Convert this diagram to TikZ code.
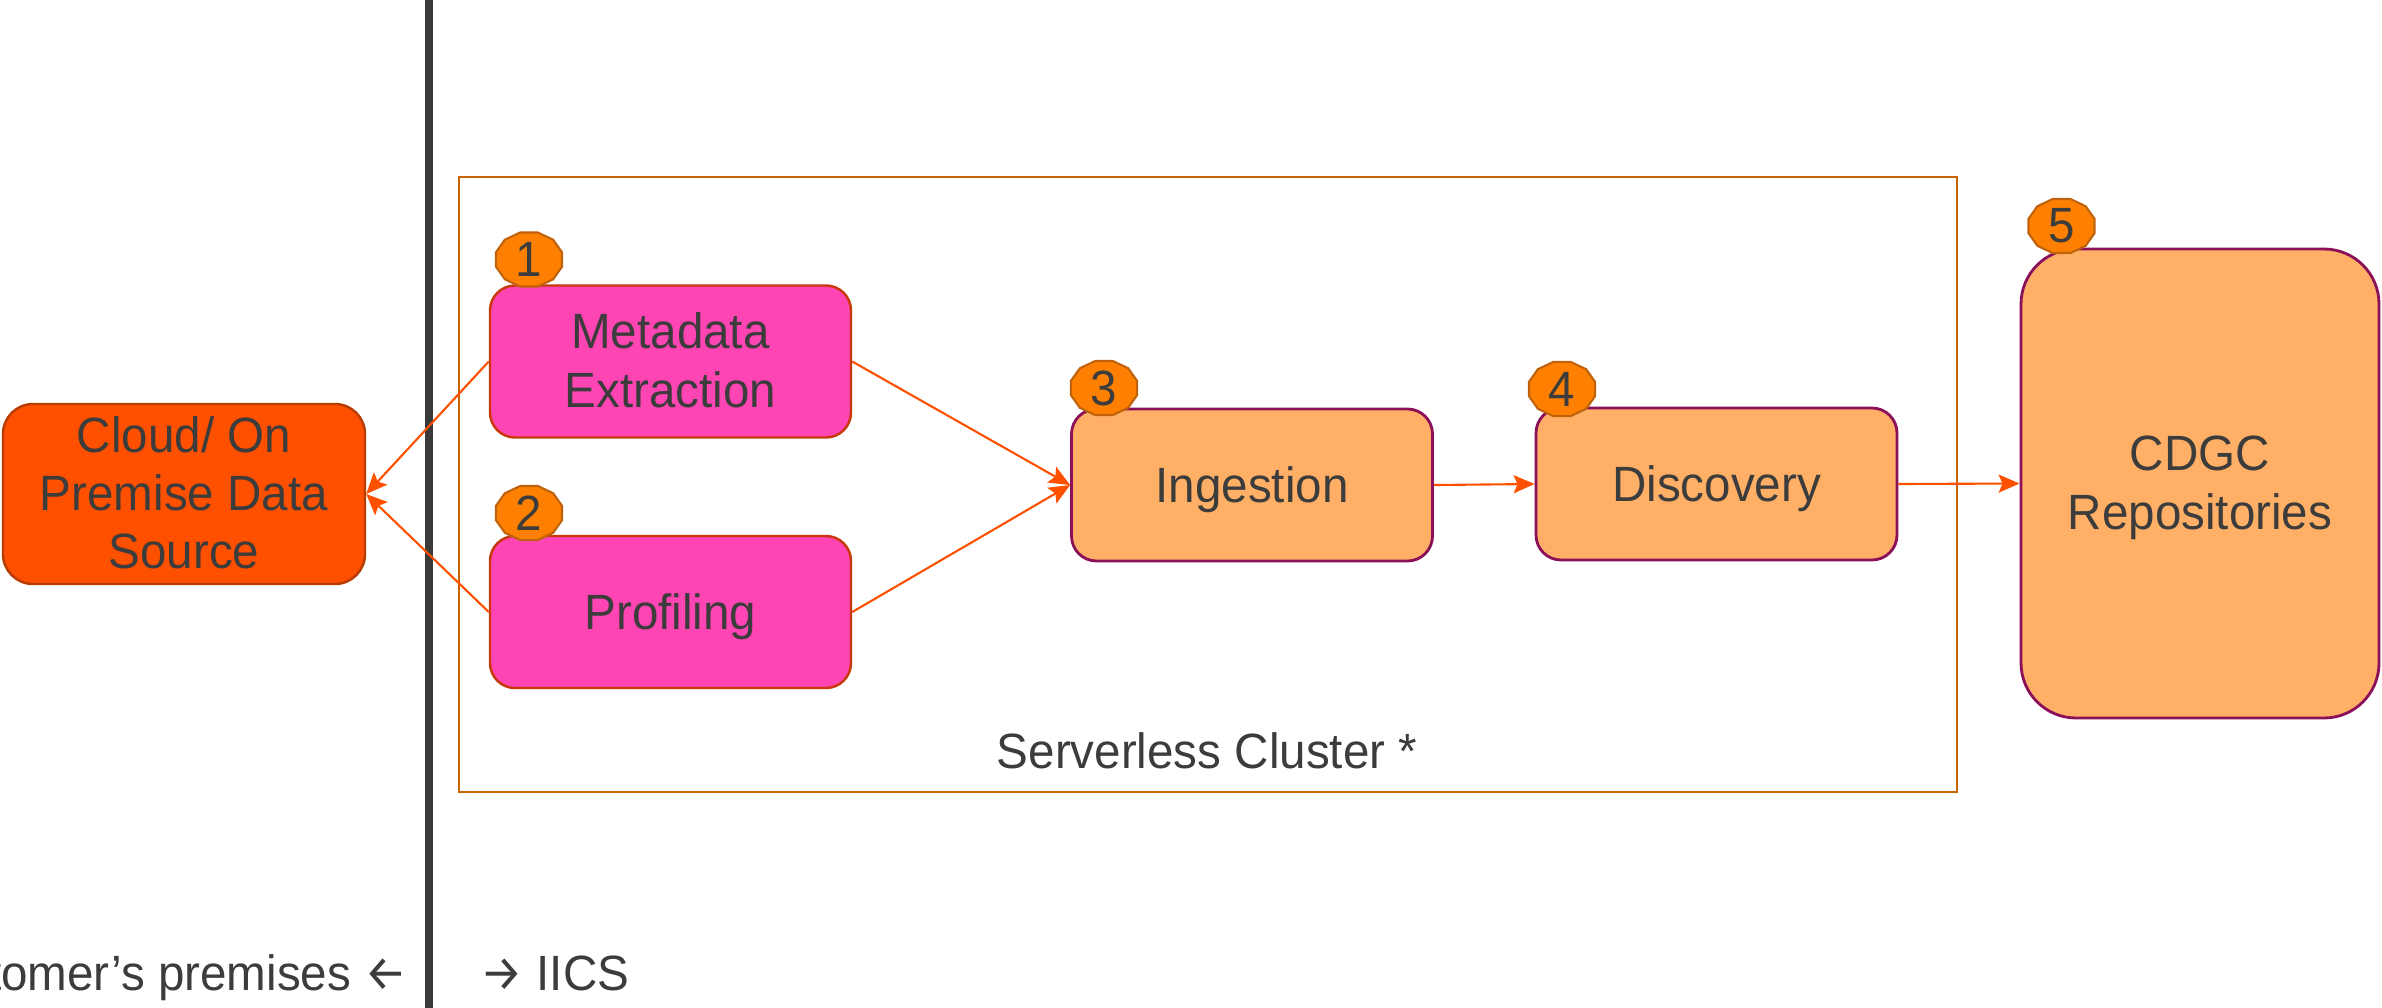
\documentclass[tikz,border=0pt]{standalone}
\usepackage{fontspec}
\setmainfont{Liberation Sans}
\newfontfamily\arrowfont{Fira Sans}
\usepackage{graphicx}
\usetikzlibrary{arrows.meta}
\definecolor{txt}{HTML}{3C3C3C}
\definecolor{divider}{HTML}{3A3A3A}
\definecolor{cloudfill}{HTML}{FF5000}
\definecolor{cloudline}{HTML}{B83C00}
\definecolor{pinkfill}{HTML}{FF44B3}
\definecolor{pinkline}{HTML}{C8380A}
\definecolor{peach}{HTML}{FFB066}
\definecolor{purp}{HTML}{8C0F5A}
\definecolor{badgefill}{HTML}{FF8000}
\definecolor{badgeline}{HTML}{C0620A}
\definecolor{clusterline}{HTML}{C86400}
\definecolor{arrowc}{HTML}{FF5000}
\newcommand\sqz[1]{\scalebox{0.96}[1]{#1}}
\newcommand\lbl[1]{\raisebox{-1.4pt}[\height][\depth]{\scalebox{0.96}[1]{#1}}}
\newcommand\lbll[1]{\raisebox{-1.4pt}[\height][\depth]{\scalebox{0.96}[1]{\begin{tabular}{@{}c@{}}#1\end{tabular}}}}
\newcommand\bigarrow[1]{{\arrowfont #1}}
\begin{document}
\begin{tikzpicture}[
  font=\fontsize{14.1}{16.6}\selectfont, text=txt,
  box/.style={rectangle, rounded corners=0.25cm, line width=0.7pt, inner sep=0pt,
    minimum width=3.61cm, minimum height=1.52cm},
  pinkbox/.style={box, fill=pinkfill, draw=pinkline},
  peachbox/.style={box, fill=peach, draw=purp, line width=0.8pt},
  flow/.style={draw=arrowc, line width=0.6pt, -{Stealth[length=0.21cm,width=0.18cm,inset=0.04cm]}},
  badgeshape/.style={fill=badgefill, draw=badgeline, line width=0.6pt},
  badgenum/.style={inner sep=0pt},
]
\useasboundingbox (0,0) rectangle (23.82,-10.07);
\clip (0,0) rectangle (23.82,-10.07);

% divider
\draw[divider, line width=0.08cm] (4.29,0.1) -- (4.29,-10.2);

% cluster frame
\draw[clusterline, line width=0.6pt] (4.59,-1.77) rectangle (19.57,-7.92);
\node[anchor=base] (clusterlabel) at (12.07,-7.68) {\sqz{Serverless Cluster *}};

% boxes
\node[box, fill=cloudfill, draw=cloudline, rounded corners=0.3cm, minimum width=3.62cm, minimum height=1.80cm]
  (cloud) at (1.84,-4.94) {\lbll{Cloud/ On\\Premise Data\\Source}};
\node[pinkbox] (meta) at (6.705,-3.615) {\lbll{Metadata\\Extraction}};
\node[pinkbox] (prof) at (6.705,-6.12) {\lbl{Profiling}};
\node[peachbox] (ing) at (12.52,-4.85) {\lbl{Ingestion}};
\node[peachbox] (disc) at (17.165,-4.84) {\lbl{Discovery}};
\node[peachbox, rounded corners=0.55cm, minimum width=3.58cm, minimum height=4.69cm]
  (cdgc) at (22.00,-4.835) {\lbll{CDGC\\Repositories}};

% badges
\def\ba{0.3416}\def\bb{0.2795}
\foreach \nm/\pos/\num in {b1/{5.29,-2.595}/1, b2/{5.29,-5.13}/2, b3/{11.04,-3.88}/3, b4/{15.62,-3.89}/4, b5/{20.615,-2.26}/5}{
  \draw[badgeshape, shift={(\pos)}] (15:\ba cm and \bb cm)
    \foreach \k in {1,...,11}{ -- ({15+30*\k}:\ba cm and \bb cm) } -- cycle;
  \node[badgenum] (\nm) at (\pos) {\sqz{\num}};
}

% connectors
\draw[flow] (meta.west) -- (cloud.east);
\draw[flow] (prof.west) -- (cloud.east);
\draw[flow] (meta.east) -- (ing.west);
\draw[flow] (prof.east) -- (ing.west);
\draw[flow] (ing.east) -- (disc.west);
\draw[flow] (disc.east) -- (cdgc.west);

% bottom labels
\node[anchor=base east, inner sep=0pt] (cust) at (4.08,-9.90) {\sqz{Customer’s premises \bigarrow{←}}};
\node[anchor=base west, inner sep=0pt] (iics) at (4.80,-9.90) {\sqz{\bigarrow{→} IICS}};
\end{tikzpicture}
\end{document}
